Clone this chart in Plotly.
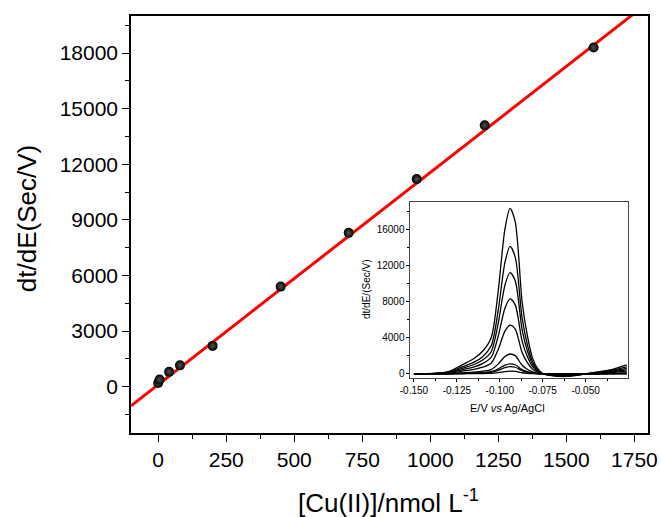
import plotly.graph_objects as go

# ---------------- main calibration data ----------------
conc = [0, 5, 40, 80, 200, 450, 700, 950, 1200, 1600]          # nmol L-1
signal = [200, 380, 800, 1150, 2200, 5400, 8300, 11200, 14100, 18300]  # dt/dE
fit_slope = 11.45
fit_intercept = 110
fit_x = [-100, 1800]

# ---------------- inset: derivative chronopotentiograms ----------------
E_vals = [-0.150, -0.140, -0.130, -0.122, -0.115, -0.110, -0.105, -0.101,
          -0.097, -0.094, -0.091, -0.087, -0.084, -0.081, -0.078, -0.075,
          -0.070, -0.063, -0.056, -0.050, -0.044, -0.038, -0.032, -0.026]
curve_1 = [0, 1, 4, 16, 28, 40, 65, 145, 260, 300, 275, 130, 70, 30, 10, 1, -3, -5, -3, 0, 3, 6, 11, 16]
curve_2 = [0, 2, 11, 44, 75, 110, 175, 390, 700, 800, 735, 350, 190, 80, 25, 2, -9, -13, -9, 0, 9, 15, 29, 44]
curve_3 = [0, 3, 15, 60, 100, 150, 240, 540, 960, 1100, 1010, 480, 260, 110, 35, 3, -12, -18, -12, 0, 12, 20, 40, 60]
curve_4 = [0, 6, 30, 120, 200, 300, 480, 1080, 1920, 2200, 2020, 960, 520, 220, 70, 6, -25, -35, -25, 0, 25, 40, 80, 120]
curve_5 = [0, 15, 75, 300, 500, 740, 1180, 2650, 4720, 5400, 4960, 2360, 1270, 530, 180, 15, -60, -90, -60, 0, 60, 100, 190, 300]
curve_6 = [0, 20, 110, 450, 770, 1140, 1820, 4100, 7260, 8300, 7630, 3630, 1950, 820, 270, 20, -90, -140, -90, 0, 90, 160, 300, 450]
curve_7 = [0, 30, 150, 610, 1040, 1530, 2450, 5500, 9800, 11200, 10300, 4900, 2600, 1100, 370, 30, -120, -180, -120, 0, 120, 210, 400, 610]
curve_8 = [0, 40, 190, 770, 1300, 1900, 3100, 6900, 12300, 14100, 12900, 6200, 3300, 1400, 460, 40, -160, -230, -150, 0, 150, 270, 500, 770]
curve_9 = [0, 50, 250, 1000, 1700, 2500, 4000, 9000, 16000, 18300, 16800, 8000, 4300, 1800, 600, 50, -200, -300, -200, 0, 200, 350, 650, 1000]
curves = [curve_1, curve_2, curve_3, curve_4, curve_5, curve_6, curve_7, curve_8, curve_9]

inset_xtick_vals = [-0.150, -0.125, -0.100, -0.075, -0.050]
inset_xtick_text = ["-0.150", "-0.125", "-0.100", "-0.075", "-0.050"]
inset_ytick_vals = [0, 4000, 8000, 12000, 16000]

FONT = "Liberation Sans, Arial, sans-serif"

fig = go.Figure()

fit_y = [fit_slope * x + fit_intercept for x in fit_x]
fig.add_trace(go.Scatter(x=fit_x, y=fit_y, mode="lines",
                         line=dict(color="#ff0000", width=3),
                         showlegend=False, hoverinfo="skip"))
fig.add_trace(go.Scatter(x=conc, y=signal, mode="markers",
                         marker=dict(color="#000000", size=10,
                                     gradient=dict(type="radial", color="#555555")),
                         showlegend=False))

for c in curves:
    fig.add_trace(go.Scatter(x=E_vals, y=c, mode="lines", xaxis="x2", yaxis="y2",
                             line=dict(color="#000000", width=1.3, shape="spline", smoothing=0.8),
                             showlegend=False, hoverinfo="skip"))


def axis_common(linecolor):
    return dict(showgrid=False, zeroline=False, showline=True, linecolor=linecolor,
                mirror=True, ticks="outside", tickcolor="#000000", automargin=False)


fig.update_layout(
    template="none",
    width=661, height=517,
    margin=dict(l=131, r=13, t=16, b=84, autoexpand=False),
    paper_bgcolor="white", plot_bgcolor="white",
    font=dict(family=FONT, color="#000000"),
    xaxis=dict(**axis_common("#000000"), range=[-100, 1800], dtick=250, tick0=0,
               linewidth=1.5, ticklen=7, tickwidth=1.2,
               tickfont=dict(size=21, family=FONT),
               minor=dict(dtick=125, tick0=0, ticks="outside", ticklen=4, tickcolor="#000000", tickwidth=1.2)),
    yaxis=dict(**axis_common("#000000"), range=[-2500, 20000], dtick=3000, tick0=0,
               linewidth=1.5, ticklen=7, tickwidth=1.2, tickformat="d",
               tickfont=dict(size=21, family=FONT),
               minor=dict(dtick=1500, tick0=0, ticks="outside", ticklen=4, tickcolor="#000000", tickwidth=1.2)),
    xaxis2=dict(**axis_common("#444444"), domain=[0.5406, 0.9607], anchor="y2",
                range=[-0.152, -0.0255], tickvals=inset_xtick_vals, ticktext=inset_xtick_text,
                linewidth=1, ticklen=3, tickwidth=1,
                tickfont=dict(size=10, family=FONT),
                minor=dict(dtick=0.0125, tick0=-0.150, ticks="outside", ticklen=2, tickcolor="#000000")),
    yaxis2=dict(**axis_common("#444444"), domain=[0.1326, 0.554], anchor="x2",
                range=[-420, 19000], tickvals=inset_ytick_vals, tickformat="d",
                linewidth=1, ticklen=3, tickwidth=1,
                tickfont=dict(size=10, family=FONT),
                minor=dict(dtick=2000, tick0=0, ticks="outside", ticklen=2, tickcolor="#000000")),
    annotations=[
        dict(text="dt/dE(Sec/V)", xref="paper", yref="paper", x=-0.201, y=0.513,
             xanchor="center", yanchor="middle", textangle=-90, showarrow=False,
             font=dict(size=26, family=FONT)),
        dict(text="[Cu(II)]/nmol L<sup>-1</sup>", xref="paper", yref="paper",
             x=(388 - 131) / 517, y=-0.164, xanchor="center", yanchor="middle",
             showarrow=False, font=dict(size=26, family=FONT)),
        dict(text="E/V <i>vs</i> Ag/AgCl", xref="paper", yref="paper",
             x=(507 - 131) / 517, y=(433 - 408) / 417, xanchor="center", yanchor="middle",
             showarrow=False, font=dict(size=11, family=FONT)),
        dict(text="dt/dE/(Sec/V)", xref="paper", yref="paper",
             x=(366 - 131) / 517, y=(433 - 290) / 417, xanchor="center", yanchor="middle",
             textangle=-90, showarrow=False, font=dict(size=10, family=FONT)),
    ],
)

fig.write_html("out.html", config={"displayModeBar": False},
               post_script="document.body.style.margin='0px';document.body.style.overflow='hidden';")
